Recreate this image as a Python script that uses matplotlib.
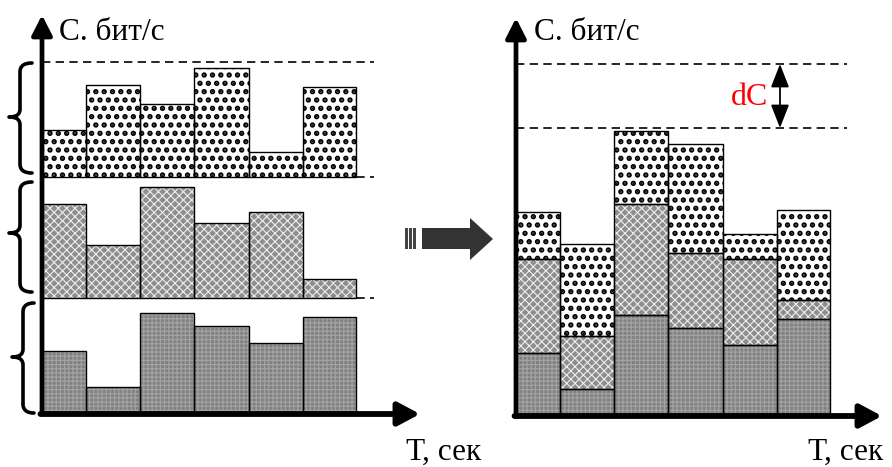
import matplotlib
matplotlib.use('Agg')
import matplotlib.pyplot as plt
from matplotlib.path import Path
from matplotlib.patches import PathPatch, Polygon, Rectangle
import numpy as np

plt.rcParams['font.family'] = ['Liberation Serif', 'DejaVu Serif']

# ---------------- data ----------------
# time interval boundaries (1 unit of time = one slot)
t_edges = [0.0, 0.82, 1.82, 2.82, 3.84, 4.84, 5.82]
# load of each channel per time slot
ch_low = [63, 27, 101, 88, 71, 97]
ch_mid = [94, 53, 111, 75, 86, 19]
ch_top = [47, 92, 73, 109, 25, 90]
# capacity of each channel (low, mid, top)
capacity = [116, 121, 115]

y_label = "С. бит/с"
x_label = "Т, сек"
dc_label = "dC"

W, H = 892, 467
fig = plt.figure(figsize=(W / 100, H / 100), dpi=100)


def fx(x):
    return x / W


def fy(y):
    return 1 - y / H


def add_axes_px(x0, y_bottom, x1, y_top):
    return fig.add_axes([fx(x0), fy(y_bottom), (x1 - x0) / W, (y_bottom - y_top) / H])


styles = {
    'top': dict(fc='white', hc='black', hatch='..', hlw=2.6),
    'mid': dict(fc='#8e8e8e', hc='#eeeeee', hatch='xxxx', hlw=0.8),
    'low': dict(fc='#808080', hc='#a2a2a2', hatch='++++', hlw=0.9),
}

lefts = np.array(t_edges[:-1])
widths = np.diff(t_edges)


def draw_bars(ax, bottoms, heights, st):
    s = styles[st]
    with plt.rc_context({'hatch.linewidth': s['hlw']}):
        bars = ax.bar(lefts, heights, width=widths, bottom=bottoms, align='edge',
                      facecolor=s['fc'], edgecolor=s['hc'], hatch=s['hatch'],
                      linewidth=0, zorder=1)
        for b in bars:
            if hasattr(b, 'set_hatch_linewidth'):
                b.set_hatch_linewidth(s['hlw'])
    ax.bar(lefts, heights, width=widths, bottom=bottoms, align='edge',
           fill=False, edgecolor='black', linewidth=1.0, zorder=2)


def axis_arrows(ax):
    ax.annotate('', xy=(0, 1), xytext=(0, 0), xycoords='axes fraction',
                arrowprops=dict(arrowstyle='-|>,head_length=0.55,head_width=0.28',
                                lw=3.4, color='black', mutation_scale=22,
                                shrinkA=0, shrinkB=0), zorder=5, annotation_clip=False)
    ax.annotate('', xy=(1, 0), xytext=(-0.004, 0), xycoords='axes fraction',
                arrowprops=dict(arrowstyle='-|>,head_length=0.6,head_width=0.32',
                                lw=4.2, color='black', mutation_scale=22,
                                shrinkA=0, shrinkB=0), zorder=5, annotation_clip=False)


# ---------------- left panel: separate channels ----------------
ax1 = add_axes_px(42, 414, 420, 15)
ax1.set_xlim(0, 7.0)
ax1.set_ylim(0, 399)
ax1.axis('off')

base_low = 0
base_mid = capacity[0]
base_top = capacity[0] + capacity[1]
cap_total = sum(capacity)

draw_bars(ax1, base_low, ch_low, 'low')
draw_bars(ax1, base_mid, ch_mid, 'mid')
draw_bars(ax1, base_top, ch_top, 'top')
for yl in (base_mid, base_top, cap_total):
    ax1.plot([0, 6.15], [yl, yl], color='black', lw=1.2, ls=(0, (5, 3.2)), zorder=0.5)
axis_arrows(ax1)

# ---------------- right panel: stacked ----------------
ax2 = add_axes_px(516, 416, 882, 18)
ax2.set_xlim(0, 6.78)
ax2.set_ylim(0, 398)
ax2.axis('off')

low = np.array(ch_low)
mid = np.array(ch_mid)
top = np.array(ch_top)
draw_bars(ax2, 0, low, 'low')
draw_bars(ax2, low, mid, 'mid')
draw_bars(ax2, low + mid, top, 'top')
peak = (low + mid + top).max()
for yl in (peak + 3, cap_total):
    ax2.plot([0, 6.13], [yl, yl], color='black', lw=1.2, ls=(0, (5, 3.2)), zorder=0.5)
ax2.annotate('', xy=(4.89, cap_total), xytext=(4.89, peak + 3),
             arrowprops=dict(arrowstyle='<|-|>,head_length=0.9,head_width=0.35',
                             lw=1.3, color='black', mutation_scale=16,
                             shrinkA=0, shrinkB=0))
ax2.text(4.33, (cap_total + peak) / 2, dc_label, color='red', ha='center', va='center',
         fontsize=23)
axis_arrows(ax2)

# ---------------- labels ----------------
fig.text(fx(59), fy(40), y_label, fontsize=22.5, ha='left', va='baseline')
fig.text(fx(534), fy(40), y_label, fontsize=22.5, ha='left', va='baseline')
fig.text(fx(406), fy(460), x_label, fontsize=22.5, ha='left', va='baseline')
fig.text(fx(808), fy(460), x_label, fontsize=22.5, ha='left', va='baseline')

# ---------------- braces ----------------


def brace(x_r, x_m, x_l, y0, y1, ym):
    pts = [(x_r, y0),
           (x_m + 4, y0), (x_m, y0 + 3), (x_m, y0 + 9),
           (x_m, ym - 8),
           (x_m, ym - 3), (x_m - 3, ym), (x_l, ym),
           (x_m - 3, ym), (x_m, ym + 3), (x_m, ym + 8),
           (x_m, y1 - 9),
           (x_m, y1 - 3), (x_m + 4, y1), (x_r, y1)]
    codes = [Path.MOVETO,
             Path.CURVE4, Path.CURVE4, Path.CURVE4,
             Path.LINETO,
             Path.CURVE4, Path.CURVE4, Path.CURVE4,
             Path.CURVE4, Path.CURVE4, Path.CURVE4,
             Path.LINETO,
             Path.CURVE4, Path.CURVE4, Path.CURVE4]
    verts = [(fx(x), fy(y)) for x, y in pts]
    fig.patches.append(PathPatch(Path(verts, codes), transform=fig.transFigure,
                                 fill=False, lw=2.6, edgecolor='black',
                                 capstyle='round', joinstyle='round'))


brace(32, 20, 9, 63, 173, 117)
brace(32, 20, 9, 182, 292, 233)
brace(34, 23, 12, 303, 413, 357)

# ---------------- big gray arrow ----------------
arrow_pts = [(422, 228), (470, 228), (470, 218), (493, 239), (470, 260), (470, 249), (422, 249)]
fig.patches.append(Polygon([(fx(x), fy(y)) for x, y in arrow_pts], closed=True,
                           transform=fig.transFigure, facecolor='#333333', edgecolor='none'))
for xs in (405, 409, 413):
    fig.patches.append(Rectangle((fx(xs), fy(249)), 2.5 / W, 21 / H,
                                 transform=fig.transFigure, facecolor='#444444',
                                 edgecolor='none'))

fig.savefig('out.png', dpi=100)
